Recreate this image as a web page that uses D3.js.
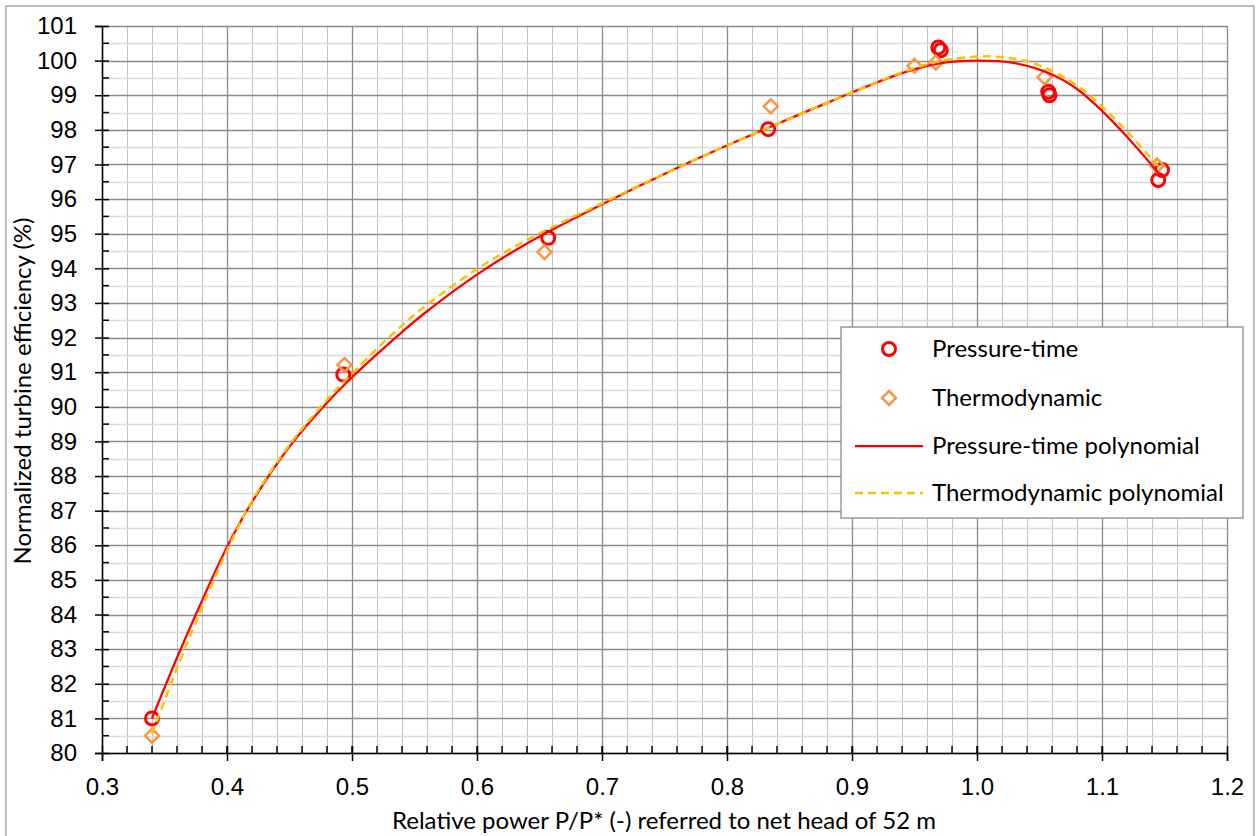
<!DOCTYPE html>
<html>
<head>
<meta charset="utf-8">
<script src="https://cdn.jsdelivr.net/npm/d3@7"></script>
<style>
  body { margin: 0; background: #fff; }
  svg { display: block; font-family: Lato, "Open Sans", sans-serif; }
</style>
</head>
<body>
<div id="chart"></div>
<script>
const width = 1260;
const height = 836;

// measured points
const ptX = [0.340, 0.493, 0.657, 0.833, 0.969, 0.971, 1.057, 1.058, 1.148, 1.145];
const ptY = [81.00, 90.93, 94.88, 98.02, 100.38, 100.30, 99.10, 99.00, 96.84, 96.55];
const thX = [0.340, 0.494, 0.654, 0.835, 0.950, 0.967, 1.054, 1.144];
const thY = [80.50, 91.21, 94.47, 98.68, 99.85, 99.94, 99.52, 96.97];

// polynomial trend lines
const ptPolyX = [0.340, 0.360, 0.380, 0.400, 0.420, 0.450, 0.480, 0.500, 0.520, 0.540, 0.560, 0.600, 0.640, 0.700, 0.760, 0.800, 0.840, 0.880, 0.900, 0.940, 0.970, 1.000, 1.030, 1.060, 1.080, 1.100, 1.120, 1.146];
const ptPolyY = [81.00, 82.75, 84.40, 85.95, 87.25, 88.85, 90.12, 90.85, 91.52, 92.16, 92.76, 93.82, 94.72, 95.85, 96.90, 97.55, 98.17, 98.78, 99.08, 99.64, 99.92, 100.00, 99.93, 99.60, 99.18, 98.55, 97.80, 96.72];
const thPolyX = [0.340, 0.360, 0.380, 0.400, 0.420, 0.450, 0.480, 0.500, 0.520, 0.540, 0.560, 0.600, 0.640, 0.700, 0.760, 0.800, 0.840, 0.880, 0.900, 0.940, 0.970, 1.000, 1.020, 1.040, 1.060, 1.080, 1.100, 1.120, 1.145];
const thPolyY = [80.55, 82.45, 84.20, 85.85, 87.28, 88.90, 90.20, 90.96, 91.68, 92.35, 92.95, 93.98, 94.82, 95.88, 96.90, 97.55, 98.17, 98.78, 99.08, 99.66, 99.98, 100.12, 100.10, 99.98, 99.70, 99.28, 98.68, 97.95, 96.95];

const xTicks = [0.3, 0.4, 0.5, 0.6, 0.7, 0.8, 0.9, 1.0, 1.1, 1.2];
const yTicks = d3.range(80, 102, 1);

const legendLabels = ["Pressure-time", "Thermodynamic", "Pressure-time polynomial", "Thermodynamic polynomial"];

const margin = {top: 26, right: 33, bottom: 83, left: 102};
const fontSize = 24;

const svg = d3.select("#chart").append("svg")
    .attr("width", width)
    .attr("height", height);

svg.append("rect")
    .attr("x", 6).attr("y", 6)
    .attr("width", 1248).attr("height", 840)
    .attr("fill", "#fff")
    .attr("stroke", "#a6a6a6")
    .attr("stroke-width", 1.5);

const x = d3.scaleLinear().domain([0.3, 1.2]).range([margin.left, width - margin.right]);
const y = d3.scaleLinear().domain([80, 101]).range([height - margin.bottom, margin.top]);

const grid = svg.append("g").attr("class", "grid");

// minor grid
grid.selectAll("line.minx").data(d3.range(0.32, 1.2, 0.02))
    .join("line").attr("class", "minx")
    .attr("x1", d => Math.round(x(d)) + 0.5).attr("x2", d => Math.round(x(d)) + 0.5)
    .attr("y1", y(80)).attr("y2", y(101))
    .attr("stroke", "#c3c3c3").attr("stroke-width", 1);
grid.selectAll("line.miny").data(d3.range(80.5, 101, 1))
    .join("line").attr("class", "miny")
    .attr("y1", d => Math.round(y(d)) + 0.5).attr("y2", d => Math.round(y(d)) + 0.5)
    .attr("x1", x(0.3)).attr("x2", x(1.2))
    .attr("stroke", "#d9d9d9").attr("stroke-width", 1.5);

// major grid
grid.selectAll("line.majx").data(xTicks)
    .join("line").attr("class", "majx")
    .attr("x1", d => Math.round(x(d)) + 0.5).attr("x2", d => Math.round(x(d)) + 0.5)
    .attr("y1", y(80)).attr("y2", y(101))
    .attr("stroke", "#8c8c8c").attr("stroke-width", 1.3);
grid.selectAll("line.majy").data(yTicks)
    .join("line").attr("class", "majy")
    .attr("y1", d => Math.round(y(d)) + 0.5).attr("y2", d => Math.round(y(d)) + 0.5)
    .attr("x1", x(0.3)).attr("x2", x(1.2))
    .attr("stroke", "#8c8c8c").attr("stroke-width", 1.3);

// axes
const xAxis = d3.axisBottom(x).tickValues(xTicks).tickSize(8).tickPadding(17)
    .tickFormat(d3.format(".1f"));
const gx = svg.append("g")
    .attr("transform", `translate(0,${y(80)})`)
    .call(xAxis);
gx.selectAll(".tick line").attr("y1", -7).attr("stroke-width", 1.5);
gx.selectAll(".tick text").attr("font-size", fontSize).attr("fill", "#000");
gx.select(".domain").attr("stroke-width", 1.5);
gx.selectAll(".minor").data(d3.range(0.32, 1.2, 0.02)).join("line")
    .attr("class", "minor")
    .attr("x1", d => x(d)).attr("x2", d => x(d))
    .attr("y1", 0).attr("y2", -7)
    .attr("stroke", "#000").attr("stroke-width", 1.5);

const yAxis = d3.axisLeft(y).tickValues(yTicks).tickSize(7).tickPadding(18);
const gy = svg.append("g")
    .attr("transform", `translate(${x(0.3)},0)`)
    .call(yAxis);
gy.selectAll(".tick line").attr("x1", 7).attr("stroke-width", 1.5);
gy.selectAll(".tick text").attr("font-size", fontSize).attr("fill", "#000");
gy.select(".domain").attr("stroke-width", 1.5);
gy.selectAll(".minor").data(d3.range(80.5, 101, 1)).join("line")
    .attr("class", "minor")
    .attr("y1", d => y(d)).attr("y2", d => y(d))
    .attr("x1", 0).attr("x2", 7)
    .attr("stroke", "#000").attr("stroke-width", 1.5);

// axis titles
svg.append("text")
    .attr("x", 664).attr("y", 829)
    .attr("text-anchor", "middle")
    .attr("font-size", fontSize)
    .attr("fill", "#000")
    .text("Relative power P/P* (-) referred to net head of 52 m");
svg.append("text")
    .attr("transform", "translate(31,391) rotate(-90)")
    .attr("text-anchor", "middle")
    .attr("font-size", fontSize)
    .attr("fill", "#000")
    .text("Normalized turbine efficiency (%)");

// markers
const ptData = ptX.map((d, i) => [d, ptY[i]]);
const thData = thX.map((d, i) => [d, thY[i]]);

const diamond = s => `M0,${-s}L${s},0L0,${s}L${-s},0Z`;

svg.append("g").selectAll("circle").data(ptData).join("circle")
    .attr("cx", d => x(d[0])).attr("cy", d => y(d[1]))
    .attr("r", 6.5)
    .attr("fill", "none")
    .attr("stroke", "#ff0000")
    .attr("stroke-width", 3);

svg.append("g").selectAll("path").data(thData).join("path")
    .attr("transform", d => `translate(${x(d[0])},${y(d[1])})`)
    .attr("d", diamond(7))
    .attr("fill", "none")
    .attr("stroke", "#f79646")
    .attr("stroke-width", 2.5);

// trend lines
const line = d3.line().x(d => x(d[0])).y(d => y(d[1])).curve(d3.curveCatmullRom);

svg.append("path")
    .datum(ptPolyX.map((d, i) => [d, ptPolyY[i]]))
    .attr("d", line)
    .attr("fill", "none")
    .attr("stroke", "#ff0000")
    .attr("stroke-width", 2.25);

svg.append("path")
    .datum(thPolyX.map((d, i) => [d, thPolyY[i]]))
    .attr("d", line)
    .attr("fill", "none")
    .attr("stroke", "#ffc000")
    .attr("stroke-width", 2.5)
    .attr("stroke-dasharray", "8,5");

// legend
const legend = svg.append("g").attr("transform", "translate(841,327)");
legend.append("rect")
    .attr("width", 402).attr("height", 191)
    .attr("fill", "#fff")
    .attr("stroke", "#8c8c8c")
    .attr("stroke-width", 1.3);

const rowY = [22, 71, 119, 166];
legend.selectAll("text").data(legendLabels).join("text")
    .attr("x", 91)
    .attr("y", (d, i) => rowY[i])
    .attr("dy", "0.35em")
    .attr("font-size", fontSize)
    .attr("fill", "#000")
    .text(d => d);

legend.append("circle")
    .attr("cx", 48).attr("cy", rowY[0]).attr("r", 6.5)
    .attr("fill", "none").attr("stroke", "#ff0000").attr("stroke-width", 3);
legend.append("path")
    .attr("transform", `translate(48,${rowY[1]})`)
    .attr("d", diamond(7))
    .attr("fill", "none").attr("stroke", "#f79646").attr("stroke-width", 2.5);
legend.append("line")
    .attr("x1", 14).attr("x2", 82).attr("y1", rowY[2]).attr("y2", rowY[2])
    .attr("stroke", "#ff0000").attr("stroke-width", 2.25);
legend.append("line")
    .attr("x1", 14).attr("x2", 82).attr("y1", rowY[3]).attr("y2", rowY[3])
    .attr("stroke", "#ffc000").attr("stroke-width", 2.5)
    .attr("stroke-dasharray", "8,5");
</script>
</body>
</html>
